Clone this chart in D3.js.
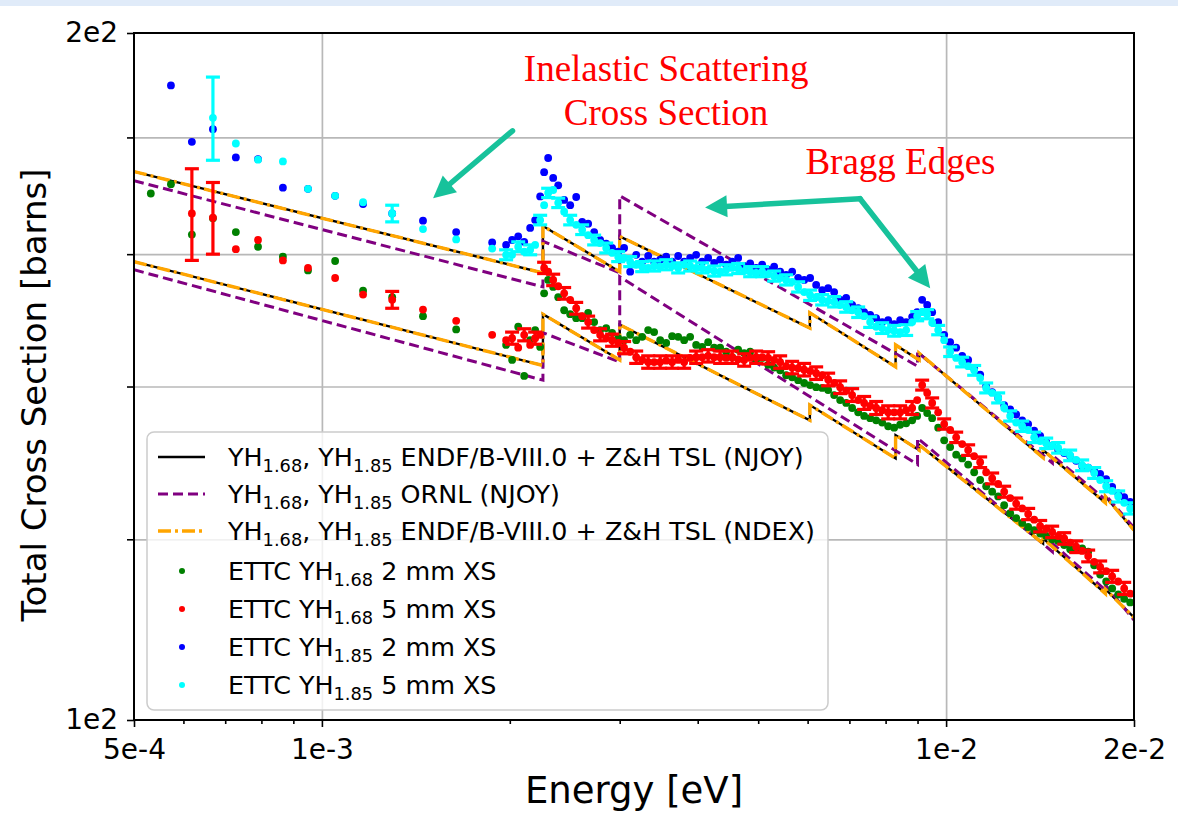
<!DOCTYPE html>
<html>
<head>
<meta charset="utf-8">
<script src="https://cdn.jsdelivr.net/npm/d3@7/dist/d3.min.js"></script>
<style>
html,body{margin:0;padding:0;background:#fff;}
svg{display:block;}
</style>
</head>
<body>
<svg id="chart" width="1178" height="829"></svg>
<script>
// ---------------- axes / ticks ----------------
const xTickValues = [5e-4, 1e-3, 1e-2, 2e-2];
const xTickLabels = ["5e-4", "1e-3", "1e-2", "2e-2"];
const xMinorTicks = [6e-4, 7e-4, 8e-4, 9e-4, 2e-3, 3e-3, 4e-3, 5e-3, 6e-3, 7e-3, 8e-3, 9e-3];
const xGridValues = [1e-3, 1e-2];
const yTickValues = [100, 200];
const yTickLabels = ["1e2", "2e2"];
const yMinorTicks = [120, 140, 160, 180];

// ---------------- evaluated curves (energy eV, cross section barns) ----------------
const endfEnergy = [5.0e-4, 2.26e-3, 2.26e-3, 3.0e-3, 3.0e-3, 6.05e-3, 6.05e-3, 8.3e-3, 8.3e-3, 9.05e-3, 9.05e-3, 1.43e-2, 1.43e-2, 1.80e-2, 1.80e-2, 2.0e-2];
const endfYH185 = [173.9, 157.0, 164.6, 157.2, 162.9, 148.5, 150.8, 142.8, 146.0, 143.8, 144.8, 130.3, 131.3, 124.5, 125.3, 121.1];
const endfYH168 = [158.8, 143.0, 150.6, 143.8, 149.0, 135.3, 137.4, 130.2, 133.3, 131.3, 132.0, 119.5, 120.1, 113.6, 114.1, 110.9];
const ndexEnergy = [5.0e-4, 2.26e-3, 2.26e-3, 3.0e-3, 3.0e-3, 6.05e-3, 6.05e-3, 8.3e-3, 8.3e-3, 9.05e-3, 9.05e-3, 1.43e-2, 1.43e-2, 1.80e-2, 1.80e-2, 2.0e-2];
const ndexYH185 = [173.9, 157.0, 164.6, 157.2, 162.9, 148.5, 150.8, 142.8, 146.0, 143.8, 144.8, 130.3, 131.3, 124.5, 125.3, 121.1];
const ndexYH168 = [158.8, 143.0, 150.6, 143.8, 149.0, 135.3, 137.4, 130.2, 133.3, 131.3, 132.0, 119.5, 120.1, 113.6, 114.1, 110.9];
const ornlEnergy = [5.0e-4, 2.26e-3, 2.26e-3, 3.0e-3, 3.0e-3, 9.0e-3, 9.0e-3, 1.48e-2, 1.48e-2, 1.80e-2, 1.80e-2, 2.0e-2];
const ornlYH185 = [172.3, 154.8, 162.1, 157.0, 169.7, 142.9, 144.9, 129.6, 130.6, 124.9, 125.5, 121.4];
const ornlYH168 = [157.5, 140.9, 147.8, 143.5, 156.4, 129.4, 132.9, 118.5, 119.5, 114.0, 114.6, 110.6];

// ---------------- measured data: low-energy points ----------------
const energyLow = [5.32e-4, 5.73e-4, 6.19e-4, 6.69e-4, 7.28e-4, 7.90e-4, 8.66e-4, 9.50e-4, 1.050e-3, 1.164e-3, 1.296e-3, 1.452e-3, 1.641e-3, 1.874e-3];
const greenLow = [170.1, 171.7, 163.2, 165.9, 163.6, 161.2, 159.6, 157.4, 158.9, 154.2, 153.2, 150.3, 148.3, null];
const redLow   = [null, null, 166.7, 166.0, 160.8, 162.3, 159.0, 157.8, 156.2, 153.6, 152.8, 151.3, 149.6, 147.5];
const redLowErr = [0, 0, 7.7, 6.0, 0, 0, 0, 0, 0, 0, 1.3, 0, 0, 0];
const blueLow  = [null, 189.7, 179.2, 181.5, 176.4, 176.1, 171.1, 170.9, 169.7, 168.3, 166.7, 165.5, 163.6, 161.9];
const cyanLow  = [null, null, null, 183.6, 178.9, 176.0, 175.7, 170.9, 169.7, 168.6, 166.7, 164.1, 162.4, 160.9];
const cyanLowErr = [0, 0, 0, 7.7, 0, 0, 0, 0, 0, 0, 1.4, 0, 0, 0];

// ---------------- measured data: dense region ----------------
const energyDense = [
 1.973e-3,2.017e-3,2.063e-3,2.109e-3,2.156e-3,2.196e-3,2.237e-3,2.270e-3,2.304e-3,2.347e-3,
 2.391e-3,2.444e-3,2.499e-3,2.555e-3,2.612e-3,2.670e-3,2.730e-3,2.791e-3,2.854e-3,2.917e-3,
 2.983e-3,3.049e-3,3.118e-3,3.188e-3,3.259e-3,3.332e-3,3.406e-3,3.483e-3,3.561e-3,3.640e-3,
 3.722e-3,3.805e-3,3.890e-3,3.977e-3,4.066e-3,4.157e-3,4.250e-3,4.345e-3,4.443e-3,4.542e-3,
 4.644e-3,4.748e-3,4.854e-3,4.962e-3,5.074e-3,5.187e-3,5.303e-3,5.422e-3,5.543e-3,5.667e-3,
 5.794e-3,5.924e-3,6.056e-3,6.192e-3,6.331e-3,6.472e-3,6.617e-3,6.765e-3,6.917e-3,7.071e-3,
 7.230e-3,7.391e-3,7.557e-3,7.726e-3,7.899e-3,8.076e-3,8.256e-3,8.441e-3,8.630e-3,8.823e-3,
 8.988e-3,9.155e-3,9.326e-3,9.499e-3,9.712e-3,9.929e-3,1.0151e-2,1.0379e-2,1.0611e-2,1.0848e-2,
 1.1091e-2,1.1339e-2,1.1593e-2,1.1853e-2,1.2118e-2,1.2389e-2,1.2667e-2,1.2950e-2,1.3240e-2,1.3536e-2,
 1.3839e-2,1.4149e-2,1.4466e-2,1.4789e-2,1.5120e-2,1.5459e-2,1.5805e-2,1.6158e-2,1.6520e-2,1.6890e-2,
 1.7268e-2,1.7654e-2,1.8049e-2,1.8453e-2,1.8866e-2,1.9289e-2,1.9720e-2];

const blueDense = [
 161.5,162.3,162.9,162.0,164.3,165.6,169.6,173.8,176.3,172.8,
 171.5,169.0,168.1,169.5,165.3,165.0,163.6,162.3,161.7,161.0,
 160.4,161.0,157.2,159.9,158.8,159.7,158.8,159.1,159.6,158.8,
 159.7,158.8,159.4,159.9,158.8,159.4,158.6,159.1,158.3,158.8,
 159.4,158.1,158.5,157.8,158.3,157.5,158.0,157.2,156.7,157.2,
 156.2,155.9,156.2,155.1,154.3,154.6,154.0,152.8,153.1,152.0,
 151.5,150.9,150.5,150.0,149.4,149.7,149.1,149.7,149.4,150.2,
 150.9,152.8,152.0,150.9,149.4,147.5,146.4,145.6,144.4,143.8,
 142.6,141.7,140.1,139.2,138.4,137.4,136.8,136.1,135.3,134.8,
 133.9,133.2,132.4,131.9,131.3,130.9,130.5,129.9,129.2,129.0,
 128.6,128.2,127.5,126.5,125.7,125.2,124.6];

const cyanDense = [
 159.9,159.9,161.2,160.4,160.7,161.5,165.6,168.1,170.2,170.7,
 168.5,167.0,165.6,164.8,164.0,163.1,162.3,161.8,161.0,160.2,
 159.6,159.4,158.8,158.3,158.0,157.8,158.1,158.0,158.3,158.1,
 157.8,158.3,158.1,157.8,157.8,157.5,157.3,157.2,157.5,157.8,
 157.7,157.3,157.2,157.0,157.2,156.8,156.5,156.2,155.9,155.6,
 154.8,154.0,153.5,153.2,152.8,152.6,152.5,152.0,151.7,151.2,
 150.9,150.3,149.4,148.7,148.5,148.2,148.1,147.9,148.2,149.4,
 150.3,150.9,150.6,149.3,148.2,146.7,145.0,144.1,143.5,142.9,
 142.3,141.2,139.8,139.1,138.4,137.0,135.9,135.0,134.5,134.0,
 133.0,132.5,132.2,131.9,131.6,131.0,130.6,130.0,129.3,129.0,
 128.3,127.4,126.6,126.0,125.3,124.5,123.8];
const cyanErrDense = [
 0.8,0,0.8,0,0.8,0,0.8,0,0.8,0, 0.8,0,0.8,0,0.8,0,0.8,0,0.8,0,
 0.8,0,0.8,0,0.8,0,0.8,0,0.8,0, 0.8,0,0.8,0,0.8,0,0.8,0,0.8,0,
 0.8,0,0.8,0,0.8,0,0.8,0,0.8,0, 0.8,0,0.8,0,0.8,0,0.8,0,0.8,0,
 0.8,0,0.8,0,0.8,0,0.8,0,0.8,0, 0.7,0,0.7,0,0.7,0,0.7,0,0.7,0,
 0.7,0,0.7,0,0.7,0,0.7,0,0.7,0, 0.7,0,0.7,0,0.7,0,0.7,0,0.7,0,
 0.7,0,0.7,0,0.7,0,0.7];

const greenDense = [
 146.0,143.8,148.7,141.5,146.7,148.2,145.7,153.8,155.9,154.8,
 153.2,151.2,150.6,150.0,150.0,150.8,149.4,148.2,148.5,147.8,
 147.0,146.7,147.5,146.7,147.2,148.2,147.9,146.7,146.3,147.3,
 147.2,146.7,147.2,146.0,145.7,146.4,145.6,145.6,145.0,144.2,
 145.3,144.8,145.0,143.8,144.1,143.1,142.7,142.3,141.6,141.3,
 140.9,140.5,140.2,139.9,139.8,139.5,138.8,138.1,137.7,137.0,
 136.4,135.9,135.6,135.3,135.0,134.5,134.3,134.7,134.9,135.3,
 135.9,137.0,136.3,135.6,134.3,132.6,131.7,130.7,130.2,129.4,
 128.4,127.4,126.6,125.9,125.3,124.2,123.2,122.6,122.0,121.5,
 121.1,120.7,120.4,120.0,119.8,119.3,118.8,118.7,118.9,118.5,
 116.9,115.8,115.0,114.2,113.5,113.0,112.6];

const redDense = [
 146.7,147.0,145.6,147.5,146.0,147.0,147.5,157.8,157.2,155.9,
 154.9,153.8,152.8,151.5,150.3,149.4,148.2,147.5,147.0,146.7,
 146.3,145.6,145.0,144.2,143.8,143.5,143.5,143.5,143.7,143.5,
 143.8,143.5,144.1,144.2,144.2,144.4,144.2,144.2,144.1,144.2,
 143.9,143.8,144.1,144.2,144.2,144.1,143.8,143.5,142.9,142.7,
 142.6,142.4,142.2,141.9,141.6,141.0,140.5,139.9,139.4,138.8,
 138.1,137.7,137.3,137.0,136.7,136.4,136.4,136.4,136.7,137.0,
 138.1,140.2,139.1,137.7,136.4,134.8,134.0,133.0,132.1,131.3,
 130.5,129.7,128.4,127.6,126.9,125.9,125.1,124.4,123.8,123.1,
 122.4,121.6,121.3,120.9,120.4,120.1,119.6,119.1,118.6,118.0,
 117.3,116.7,116.2,115.6,115.0,114.2,113.6];
const redErrDense = [
 0,0.9,0,0.9,0,0.9,0,0.9,0,0.9, 0,0.9,0,0.9,0,0.9,0,0.9,0,0.9,
 0,0.9,0,0.9,0,0.9,0,0.9,0,0.9, 0,0.9,0,0.9,0,0.9,0,0.9,0,0.9,
 0,0.9,0,0.9,0,0.9,0,0.9,0,0.9, 0,0.9,0,0.9,0,0.9,0,0.9,0,0.9,
 0,0.9,0,0.9,0,0.9,0,0.9,0,0.9, 0,0.7,0,0.7,0,0.7,0,0.7,0,0.7,
 0,0.7,0,0.7,0,0.7,0,0.7,0,0.7, 0,0.7,0,0.7,0,0.7,0,0.7,0,0.7,
 0,0.7,0,0.7,0,0.7,0];

// ---------------- annotations (data coordinates) ----------------
const annotationTexts = [
  {lines: ["Inelastic Scattering", "Cross Section"], E: 3.56e-3, xs: [190.5, 182.3]},
  {lines: ["Bragg Edges"], E: 8.45e-3, xs: [173.4]}
];
const arrowSegments = [
  {from: [2.02e-3, 181.2], to: [1.507e-3, 169.3]},
  {from: [7.28e-3, 169.2], to: [4.11e-3, 167.7]},
  {from: [7.28e-3, 169.2], to: [9.43e-3, 154.6]}
];

const legendLabels = [
  {type: "line", color: "#000000", dash: null, width: 2.4, parts: [["YH",0],["1.68",1],[", YH",0],["1.85",1],[" ENDF/B-VIII.0 + Z&H TSL (NJOY)",0]]},
  {type: "line", color: "#800080", dash: "10,5", width: 3, parts: [["YH",0],["1.68",1],[", YH",0],["1.85",1],[" ORNL (NJOY)",0]]},
  {type: "line", color: "#ffa500", dash: "13,4,3,4", width: 3.4, parts: [["YH",0],["1.68",1],[", YH",0],["1.85",1],[" ENDF/B-VIII.0 + Z&H TSL (NDEX)",0]]},
  {type: "dot", color: "#008000", parts: [["ETTC YH",0],["1.68",1],[" 2 mm XS",0]]},
  {type: "dot", color: "#ff0000", parts: [["ETTC YH",0],["1.68",1],[" 5 mm XS",0]]},
  {type: "dot", color: "#0000ff", parts: [["ETTC YH",0],["1.85",1],[" 2 mm XS",0]]},
  {type: "dot", color: "#00ffff", parts: [["ETTC YH",0],["1.85",1],[" 5 mm XS",0]]}
];

// ---------------- drawing ----------------
const W = 1178, H = 829;
const X0 = 134, X1 = 1134, Y0 = 33, Y1 = 720;
const FONT = "'DejaVu Sans', 'Liberation Sans', sans-serif";
const svg = d3.select("#chart");

svg.append("rect").attr("width", W).attr("height", H).attr("fill", "#ffffff");
svg.append("rect").attr("x", 0).attr("y", 0).attr("width", W).attr("height", 6).attr("fill", "#e0ebf9");

const x = d3.scaleLog().domain([5e-4, 2e-2]).range([X0, X1]);
const y = d3.scaleLog().domain([100, 200]).range([Y1, Y0]);

svg.append("defs").append("clipPath").attr("id", "plotclip")
  .append("rect").attr("x", X0).attr("y", Y0).attr("width", X1 - X0).attr("height", Y1 - Y0);

// grid
svg.append("g").attr("transform", `translate(0,${Y1})`)
  .call(d3.axisBottom(x).tickValues(xGridValues).tickSize(-(Y1 - Y0)).tickFormat(""))
  .call(g => { g.select(".domain").remove(); g.selectAll("line").attr("stroke", "#b8b8b8").attr("stroke-width", 1.7); });
svg.append("g").attr("transform", `translate(${X0},0)`)
  .call(d3.axisLeft(y).tickValues(yMinorTicks).tickSize(-(X1 - X0)).tickFormat(""))
  .call(g => { g.select(".domain").remove(); g.selectAll("line").attr("stroke", "#b8b8b8").attr("stroke-width", 1.7); });

const plot = svg.append("g").attr("clip-path", "url(#plotclip)");
const line = d3.line().x(d => x(d[0])).y(d => y(d[1]));

function drawCurve(E, S, color, width, dash) {
  const p = plot.append("path").datum(d3.zip(E, S)).attr("d", line)
    .attr("fill", "none").attr("stroke", color).attr("stroke-width", width)
    .attr("stroke-linejoin", "miter");
  if (dash) p.attr("stroke-dasharray", dash);
}
drawCurve(endfEnergy, endfYH185, "#000000", 2.4, null);
drawCurve(endfEnergy, endfYH168, "#000000", 2.4, null);
drawCurve(ornlEnergy, ornlYH185, "#800080", 3, "10,5");
drawCurve(ornlEnergy, ornlYH168, "#800080", 3, "10,5");
drawCurve(ndexEnergy, ndexYH185, "#ffa500", 3.4, "13,4,3,4");
drawCurve(ndexEnergy, ndexYH168, "#ffa500", 3.4, "13,4,3,4");

function drawSeries(E, S, Err, color) {
  const pts = [];
  E.forEach((e, i) => { if (S[i] != null) pts.push({e: e, s: S[i], err: Err ? Err[i] : 0}); });
  const g = plot.append("g");
  pts.filter(d => d.err > 0).forEach(d => {
    const xx = x(d.e), ya = y(d.s + d.err), yb = y(d.s - d.err);
    g.append("line").attr("x1", xx).attr("x2", xx).attr("y1", ya).attr("y2", yb)
      .attr("stroke", color).attr("stroke-width", 3.2);
    [ya, yb].forEach(yy => g.append("line").attr("x1", xx - 7).attr("x2", xx + 7).attr("y1", yy).attr("y2", yy)
      .attr("stroke", color).attr("stroke-width", 3.2));
  });
  g.selectAll("circle").data(pts).join("circle")
    .attr("cx", d => x(d.e)).attr("cy", d => y(d.s)).attr("r", 3.9).attr("fill", color);
}
drawSeries(energyLow, greenLow, null, "#008000");
drawSeries(energyDense, greenDense, null, "#008000");
drawSeries(energyLow, redLow, redLowErr, "#ff0000");
drawSeries(energyDense, redDense, redErrDense, "#ff0000");
drawSeries(energyLow, blueLow, null, "#0000ff");
drawSeries(energyDense, blueDense, null, "#0000ff");
drawSeries(energyLow, cyanLow, cyanLowErr, "#00ffff");
drawSeries(energyDense, cyanDense, cyanErrDense, "#00ffff");

// spines
svg.append("rect").attr("x", X0).attr("y", Y0).attr("width", X1 - X0).attr("height", Y1 - Y0)
  .attr("fill", "none").attr("stroke", "#000").attr("stroke-width", 2);

// ticks
function styleAxis(g) {
  g.select(".domain").remove();
  g.selectAll("line").attr("stroke", "#000").attr("stroke-width", 1.6);
  g.selectAll("text").attr("font-family", FONT).attr("font-size", 28).attr("fill", "#000");
}
svg.append("g").attr("transform", `translate(0,${Y1})`)
  .call(d3.axisBottom(x).tickValues(xMinorTicks).tickSize(4).tickFormat("")).call(styleAxis);
svg.append("g").attr("transform", `translate(0,${Y1})`)
  .call(d3.axisBottom(x).tickValues(xTickValues).tickSize(7).tickPadding(12)
    .tickFormat((d, i) => xTickLabels[i])).call(styleAxis);
svg.append("g").attr("transform", `translate(${X0},0)`)
  .call(d3.axisLeft(y).tickValues(yMinorTicks).tickSize(7).tickFormat("")).call(styleAxis);
svg.append("g").attr("transform", `translate(${X0},0)`)
  .call(d3.axisLeft(y).tickValues(yTickValues).tickSize(7).tickPadding(9)
    .tickFormat((d, i) => yTickLabels[i])).call(styleAxis);

// axis labels
svg.append("text").attr("x", 634).attr("y", 803).attr("text-anchor", "middle")
  .attr("font-family", FONT).attr("font-size", 37).attr("fill", "#000").text("Energy [eV]");
svg.append("text").attr("transform", "translate(46,395) rotate(-90)").attr("text-anchor", "middle")
  .attr("font-family", FONT).attr("font-size", 34).attr("fill", "#000").text("Total Cross Section [barns]");

// annotations
annotationTexts.forEach(a => {
  a.lines.forEach((t, i) => {
    svg.append("text").attr("x", x(a.E)).attr("y", y(a.xs[i])).attr("text-anchor", "middle")
      .attr("font-family", "'Liberation Serif', 'Times New Roman', serif").attr("font-size", 37)
      .attr("fill", "#ff0000").text(t);
  });
});
const ARROW = "#17c29b";
arrowSegments.forEach(s => {
  const x1 = x(s.from[0]), y1 = y(s.from[1]), x2 = x(s.to[0]), y2 = y(s.to[1]);
  const dx = x2 - x1, dy = y2 - y1, len = Math.hypot(dx, dy);
  const ux = dx / len, uy = dy / len, px = -uy, py = ux;
  const L = 22, Wd = 11;
  const bx = x2 - ux * L, by = y2 - uy * L;
  svg.append("line").attr("x1", x1).attr("y1", y1).attr("x2", bx + ux * 2).attr("y2", by + uy * 2)
    .attr("stroke", ARROW).attr("stroke-width", 5.5).attr("stroke-linecap", "round");
  svg.append("path").attr("d", `M${x2},${y2}L${bx + px * Wd},${by + py * Wd}L${bx - px * Wd},${by - py * Wd}Z`)
    .attr("fill", ARROW);
});

// legend
const lg = svg.append("g");
lg.append("rect").attr("x", 147).attr("y", 432).attr("width", 681).attr("height", 278).attr("rx", 7)
  .attr("fill", "#ffffff").attr("fill-opacity", 0.8).attr("stroke", "#cccccc").attr("stroke-width", 1.5);
const rowY = [457, 494, 531, 571, 609, 647, 685];
legendLabels.forEach((L, i) => {
  const cy = rowY[i];
  if (L.type === "line") {
    const ln = lg.append("line").attr("x1", 158).attr("x2", 205).attr("y1", cy).attr("y2", cy)
      .attr("stroke", L.color).attr("stroke-width", L.width);
    if (L.dash) ln.attr("stroke-dasharray", L.dash);
  } else {
    lg.append("circle").attr("cx", 182).attr("cy", cy).attr("r", 3).attr("fill", L.color);
  }
  const t = lg.append("text").attr("x", 228).attr("y", cy + 9).attr("font-family", FONT)
    .attr("font-size", 25.4).attr("fill", "#000");
  let shifted = false;
  L.parts.forEach(p => {
    const ts = t.append("tspan").text(p[0]);
    if (p[1] === 1) { ts.attr("font-size", 17.8).attr("dy", 6); shifted = true; }
    else if (shifted) { ts.attr("dy", -6); shifted = false; }
  });
});
</script>
</body>
</html>
